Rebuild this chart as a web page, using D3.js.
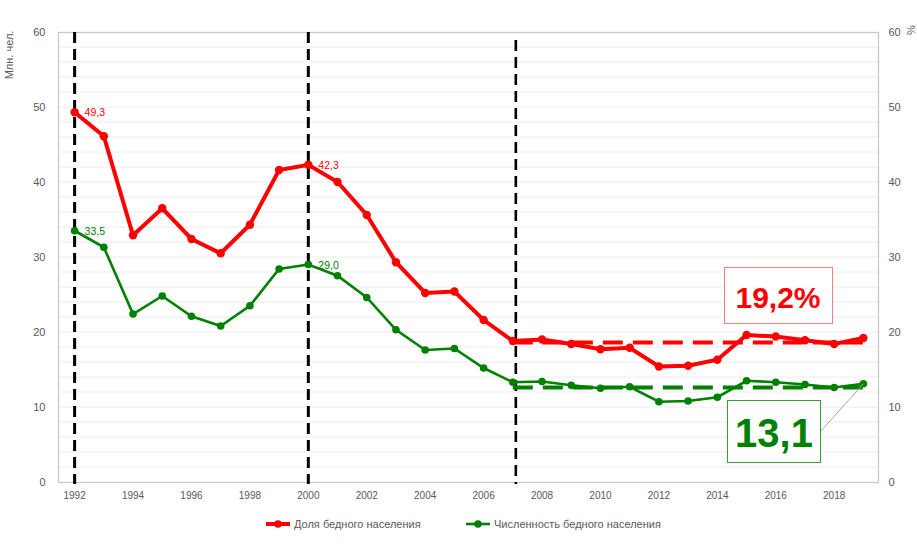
<!DOCTYPE html>
<html><head><meta charset="utf-8">
<script src="https://cdn.jsdelivr.net/npm/d3@7"></script>
<style>body{margin:0;background:#fff;}svg{display:block;font-family:"Liberation Sans",Arial,sans-serif;}</style>
</head><body>
<svg id="c" width="917" height="549"></svg>
<script>
const years = d3.range(1992, 2020);
const share = [49.3,46.1,32.9,36.5,32.4,30.5,34.3,41.6,42.3,40.0,35.6,29.3,25.2,25.4,21.6,18.8,19.0,18.4,17.7,17.9,15.4,15.5,16.3,19.6,19.4,18.9,18.4,19.2];
const count = [33.5,31.3,22.4,24.8,22.1,20.8,23.5,28.4,29.0,27.5,24.6,20.3,17.6,17.8,15.2,13.3,13.4,12.9,12.5,12.7,10.7,10.8,11.3,13.5,13.3,13.0,12.6,13.1];
const yTicks = [0,10,20,30,40,50,60];
const xTickYears = [1992,1994,1996,1998,2000,2002,2004,2006,2008,2010,2012,2014,2016,2018];
const markerYears = [1992,2000,2007];
const labelsShare = [{year:1992,v:49.3,t:"49,3"},{year:2000,v:42.3,t:"42,3"}];
const labelsCount = [{year:1992,v:33.5,t:"33,5"},{year:2000,v:29.0,t:"29,0"}];
const avgShare = 18.6, avgCount = 12.6, avgFrom = 2007, avgTo = 2019;
const seriesNames = ["Доля бедного населения","Численность бедного населения"];
const RED = "#ff0000", GREEN = "#008000";

const svg = d3.select("#c");
const L = 60, R = 878, T = 32, B = 482;
const x = d3.scaleBand().domain(years).range([L, R]);
const cx = yr => x(yr) + x.bandwidth()/2;
const y = d3.scaleLinear().domain([0,60]).range([B, T]);

// gridlines
svg.append("g").selectAll("line").data(d3.range(2,60,2)).join("line")
  .attr("x1", L).attr("x2", R).attr("y1", d=>y(d)).attr("y2", d=>y(d))
  .attr("stroke", "#ececec").attr("stroke-width", 1);
// frame
svg.append("rect").attr("x", 58.5).attr("y", T+0.5).attr("width", R-58).attr("height", B-T)
  .attr("fill","none").attr("stroke","#c8c8c8").attr("stroke-width",1.3);

// axes
const yl = svg.append("g").attr("transform", `translate(58.5,0)`)
  .call(d3.axisLeft(y).tickValues(yTicks).tickSize(0).tickPadding(13));
const yr = svg.append("g").attr("transform", `translate(${R+0.5},0)`)
  .call(d3.axisRight(y).tickValues(yTicks).tickSize(0).tickPadding(10));
const xa = svg.append("g").attr("transform", `translate(0,${B})`)
  .call(d3.axisBottom(x).tickValues(xTickYears).tickSize(0).tickPadding(10));
[yl,yr,xa].forEach(g=>{g.select(".domain").remove();
  g.selectAll("text").attr("fill","#595959").style("font-size","11px");});
xa.selectAll("text").style("font-size","10px");

svg.append("text").attr("transform","translate(13,55) rotate(-90)").attr("text-anchor","middle")
  .attr("fill","#595959").style("font-size","11px").text("Млн. чел.");
svg.append("text").attr("transform","translate(915,30) rotate(-90)").attr("text-anchor","middle")
  .attr("fill","#595959").style("font-size","11px").text("%");

// vertical dashed
svg.append("g").selectAll("line").data(markerYears).join("line")
  .attr("x1", d=>cx(d)+(d===2007?3:0)).attr("x2", d=>cx(d)+(d===2007?3:0))
  .attr("y1", d=> d===2007 ? 40 : T).attr("y2", B+2)
  .attr("stroke","#000").attr("stroke-width", d=> d===2007?2.6:3).attr("stroke-dasharray","11,6");

// average dashed
svg.append("line").attr("x1", cx(avgFrom)).attr("x2", cx(avgTo)+6).attr("y1", y(avgShare)).attr("y2", y(avgShare))
  .attr("stroke", RED).attr("stroke-width", 4).attr("stroke-dasharray","20,10");
svg.append("line").attr("x1", cx(avgFrom)).attr("x2", cx(avgTo)+6).attr("y1", y(avgCount)).attr("y2", y(avgCount))
  .attr("stroke", GREEN).attr("stroke-width", 4).attr("stroke-dasharray","20,10");

const line = d3.line().x((d,i)=>cx(years[i])).y(d=>y(d));
svg.append("path").datum(count).attr("d", line).attr("fill","none").attr("stroke",GREEN).attr("stroke-width",2.6);
svg.append("g").selectAll("circle").data(count).join("circle")
  .attr("cx",(d,i)=>cx(years[i])).attr("cy",d=>y(d)).attr("r",3.8).attr("fill",GREEN);
svg.append("path").datum(share).attr("d", line).attr("fill","none").attr("stroke",RED).attr("stroke-width",4);
svg.append("g").selectAll("circle").data(share).join("circle")
  .attr("cx",(d,i)=>cx(years[i])).attr("cy",d=>y(d)).attr("r",4.2).attr("fill",RED);

// data labels
svg.append("g").selectAll("text").data(labelsShare).join("text")
  .attr("x", d=>cx(d.year)+10).attr("y", d=>y(d.v)+4).attr("fill", RED).style("font-size","10.5px").text(d=>d.t);
svg.append("g").selectAll("text").data(labelsCount).join("text")
  .attr("x", d=>cx(d.year)+10).attr("y", d=>y(d.v)+4).attr("fill", GREEN).style("font-size","10.5px").text(d=>d.t);

// annotation boxes
svg.append("rect").attr("x",724.5).attr("y",267.5).attr("width",108).attr("height",56)
  .attr("fill","#fff").attr("stroke","#f08080").attr("stroke-width",1);
svg.append("text").attr("x",778).attr("y",308).attr("text-anchor","middle").attr("fill",RED)
  .style("font-size","30px").style("font-weight","bold").text("19,2%");
svg.append("line").attr("x1",820).attr("y1",432).attr("x2",cx(2019)).attr("y2",y(13.1))
  .attr("stroke","#a6a6a6").attr("stroke-width",1);
svg.append("rect").attr("x",727.5).attr("y",400.5).attr("width",93).attr("height",62)
  .attr("fill","#fff").attr("stroke","#3a9a3a").attr("stroke-width",1);
svg.append("text").attr("x",774).attr("y",447).attr("text-anchor","middle").attr("fill",GREEN)
  .style("font-size","40px").style("font-weight","bold").text("13,1");

// legend
const leg = [{n:seriesNames[0],c:RED,x:266,w:4},{n:seriesNames[1],c:GREEN,x:466,w:2.6}];
const lg = svg.append("g").selectAll("g").data(leg).join("g").attr("transform",d=>`translate(${d.x},524)`);
lg.append("line").attr("x1",0).attr("x2",24).attr("stroke",d=>d.c).attr("stroke-width",d=>d.w);
lg.append("circle").attr("cx",12).attr("r",3.8).attr("fill",d=>d.c);
lg.append("text").attr("x",28).attr("y",4).attr("fill","#595959").style("font-size","11px").text(d=>d.n);
</script>
</body></html>
